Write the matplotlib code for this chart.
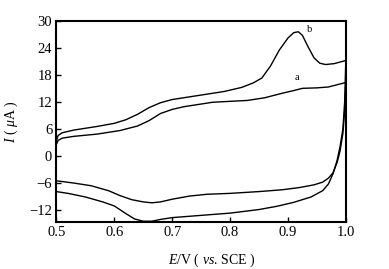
import matplotlib
matplotlib.use("Agg")
import matplotlib.pyplot as plt

plt.rcParams['font.family'] = ['Liberation Serif', 'DejaVu Serif']
plt.rcParams['mathtext.fontset'] = 'custom'
plt.rcParams['mathtext.rm'] = 'Liberation Serif'
plt.rcParams['mathtext.it'] = 'Liberation Serif:italic'

# curve a : forward scan
E_a_fwd = [0.50, 0.503, 0.51, 0.53, 0.57, 0.61, 0.64, 0.66, 0.68, 0.70, 0.72, 0.75, 0.77,
           0.80, 0.83, 0.86, 0.89, 0.91, 0.925, 0.95, 0.97, 0.985, 1.0]
I_a_fwd = [2.5, 3.4, 3.9, 4.3, 4.8, 5.6, 6.6, 7.8, 9.4, 10.3, 10.9, 11.5, 11.9,
           12.1, 12.3, 12.9, 13.9, 14.5, 15.0, 15.1, 15.3, 15.8, 16.3]
# curve a : reverse scan
E_a_rev = [1.0, 0.998, 0.995, 0.99, 0.985, 0.978, 0.97, 0.96, 0.945, 0.92, 0.89, 0.85, 0.80,
           0.76, 0.73, 0.70, 0.68, 0.665, 0.65, 0.63, 0.61, 0.59, 0.56, 0.53, 0.50]
I_a_rev = [16.3, 10, 5, 1, -1.5, -3.8, -5.0, -5.9, -6.5, -7.1, -7.6, -8.0, -8.4,
           -8.6, -9.0, -9.7, -10.3, -10.5, -10.3, -9.8, -8.9, -7.8, -6.7, -6.1, -5.6]

# curve b : forward scan
E_b_fwd = [0.50, 0.503, 0.51, 0.53, 0.57, 0.60, 0.62, 0.64, 0.66, 0.68, 0.70, 0.73, 0.76,
           0.79, 0.82, 0.84, 0.855, 0.87, 0.885, 0.90, 0.91, 0.918, 0.925, 0.935, 0.945,
           0.955, 0.965, 0.98, 1.0]
I_b_fwd = [3.3, 4.5, 5.1, 5.7, 6.5, 7.2, 8.0, 9.2, 10.7, 11.8, 12.5, 13.1, 13.7,
           14.3, 15.2, 16.2, 17.3, 20.0, 23.5, 26.2, 27.4, 27.6, 26.8, 24.2, 21.8,
           20.6, 20.3, 20.5, 21.2]
# curve b : reverse scan
E_b_rev = [1.0, 0.998, 0.995, 0.99, 0.985, 0.978, 0.97, 0.96, 0.94, 0.91, 0.88, 0.85, 0.80,
           0.75, 0.70, 0.68, 0.665, 0.65, 0.635, 0.62, 0.60, 0.58, 0.55, 0.52, 0.50]
I_b_rev = [21.2, 12, 6, 2, -1.0, -4.0, -6.3, -7.8, -9.2, -10.4, -11.3, -12.0, -12.8,
           -13.3, -13.8, -14.2, -14.6, -14.6, -14.1, -12.9, -11.2, -10.3, -9.2, -8.4, -8.0]

x_ticks = [0.5, 0.6, 0.7, 0.8, 0.9, 1.0]
y_ticks = [-12, -6, 0, 6, 12, 18, 24, 30]

fig = plt.figure(figsize=(3.89, 2.69), dpi=100)
ax = fig.add_axes([0.145, 0.176, 0.744, 0.746])

# VOLTAMMOGRAMMES (aller + retour)
ax.plot(E_a_fwd + E_a_rev, I_a_fwd + I_a_rev, color='black', lw=1.0)
ax.plot(E_b_fwd + E_b_rev, I_b_fwd + I_b_rev, color='black', lw=1.0)

ax.text(0.915, 16.4, 'a', fontsize=7.5, ha='center', va='bottom')
ax.text(0.932, 28.2, 'b', fontsize=7.5, ha='left', va='center')

# AXES
ax.set_xlim(0.5, 1.0)
ax.set_ylim(-14.7, 30)
ax.set_xticks(x_ticks)
ax.set_xticklabels(['0.5', '0.6', '0.7', '0.8', '0.9', '1.0'])
ax.set_yticks(y_ticks)
ax.tick_params(direction='in', length=3.5, width=1.0, labelsize=10.5, pad=3)

for s in ax.spines.values():
    s.set_linewidth(1.5)

ax.set_xlabel(r'$\it{E}$/V ( $\it{vs}$. SCE )', fontsize=10)
ax.xaxis.set_label_coords(0.535, -0.15)
ax.set_ylabel(r'$\it{I}$ ( $\mu$A )', fontsize=10)
ax.yaxis.set_label_coords(-0.125, 0.5)

fig.savefig('out.png', dpi=100)
